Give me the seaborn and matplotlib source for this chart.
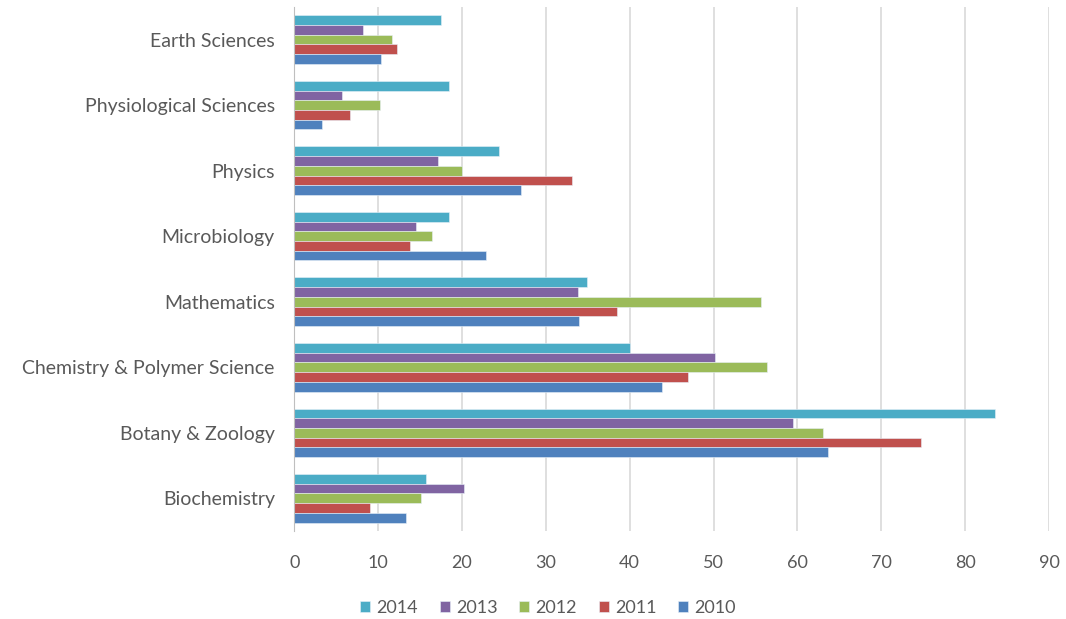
import seaborn as sns
import matplotlib.pyplot as plt
import pandas as pd

# subjects listed top to bottom as in the chart
subjects = ['Earth Sciences', 'Physiological Sciences', 'Physics', 'Microbiology',
            'Mathematics', 'Chemistry & Polymer Science', 'Botany & Zoology', 'Biochemistry']
years = ['2014', '2013', '2012', '2011', '2010']

vals_2014 = [17.5, 18.5, 24.4, 18.5, 34.9, 40.1, 83.6, 15.7]
vals_2013 = [8.2, 5.7, 17.2, 14.5, 33.8, 50.2, 59.5, 20.2]
vals_2012 = [11.7, 10.2, 20.0, 16.4, 55.7, 56.4, 63.1, 15.1]
vals_2011 = [12.3, 6.7, 33.1, 13.8, 38.5, 46.9, 74.7, 9.0]
vals_2010 = [10.4, 3.3, 27.1, 22.9, 34.0, 43.9, 63.7, 13.3]

colors = ['#4BACC6', '#8064A2', '#9BBB59', '#C0504D', '#4F81BD']

series = [vals_2014, vals_2013, vals_2012, vals_2011, vals_2010]
rows = []
for yr, vals in zip(years, series):
    for subj, v in zip(subjects, vals):
        rows.append({'subject': subj, 'year': yr, 'value': v})
df = pd.DataFrame(rows)

sns.set_style('white')
plt.rcParams['font.family'] = ['Lato', 'DejaVu Sans']

fig = plt.figure(figsize=(10.66, 6.19), dpi=100)
ax = fig.add_axes([0.276, 0.142, 0.708, 0.847])

sns.barplot(data=df, y='subject', x='value', hue='year', order=subjects,
            hue_order=years, palette=colors, saturation=1, orient='h', width=0.74,
            edgecolor='#e8f0f8', linewidth=0.4, ax=ax)

ax.set_xlim(0, 90)
ax.set_ylim(len(subjects) - 0.5, -0.5)
ax.set_xticks(range(0, 91, 10))
ax.grid(axis='x', color='#d9d9d9', linewidth=1.2)
ax.set_axisbelow(True)
for side in ['top', 'right', 'bottom']:
    ax.spines[side].set_visible(False)
ax.spines['left'].set_color('#bfbfbf')
ax.set_xlabel('')
ax.set_ylabel('')
ax.tick_params(axis='both', colors='#595959', length=0)
ax.tick_params(axis='y', labelsize=14, pad=14)
ax.tick_params(axis='x', labelsize=13, pad=17)

ax.legend_.remove()
handles, labels = ax.get_legend_handles_labels()
fig.legend(handles, labels, loc='center', bbox_to_anchor=(0.514, 0.018),
           ncol=5, frameon=False, fontsize=13, labelcolor='#595959',
           handlelength=0.55, handleheight=0.55, handletextpad=0.35, columnspacing=1.2)

plt.savefig('out.png', dpi=100)
